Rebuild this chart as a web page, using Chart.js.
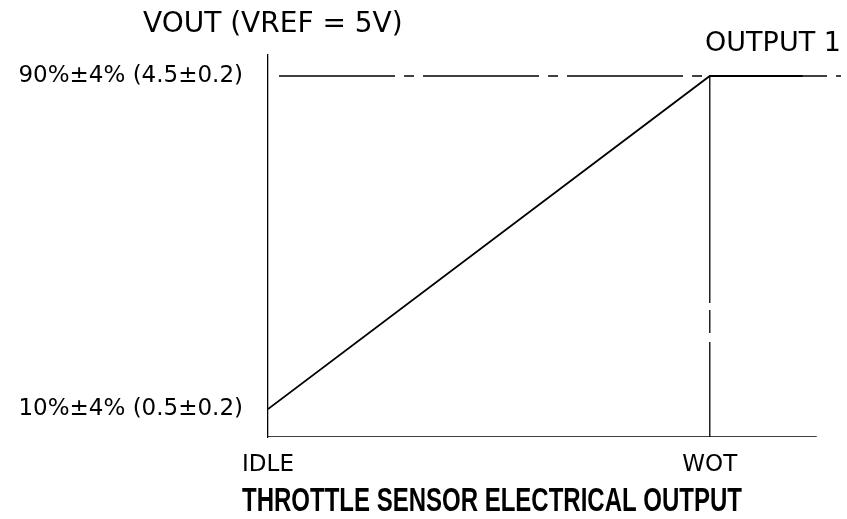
<!DOCTYPE html>
<html>
<head>
<meta charset="utf-8">
<script src="https://cdn.jsdelivr.net/npm/chart.js@4"></script>
<style>
  html, body { margin: 0; padding: 0; background: #fff; }
</style>
</head>
<body>
<canvas id="myChart" width="847" height="519"></canvas>
<script>
// data
const categories = ['IDLE', 'WOT'];
const categoryX = [0, 100];
const levelValues = [0.5, 4.5];
const levelLabels = ['10%\u00b14% (0.5\u00b10.2)', '90%\u00b14% (4.5\u00b10.2)'];
const outputX = [0, 100, 121];
const outputY = [0.5, 4.5, 4.5];
const yMin = 0.164, yMax = 4.752;
const xMax = 129.7, xAxisEnd = 124.2;

const fontFamily = '"DejaVu Sans", sans-serif';
const boldFamily = '"Liberation Sans", sans-serif';

// extra text drawn on the canvas
const textPlugin = {
    id: 'extraText',
    afterDraw(chart) {
        const c = chart.ctx;
        c.save();
        c.fillStyle = '#000';
        c.textBaseline = 'middle';
        c.textAlign = 'left';
        c.font = '28px ' + fontFamily;
        c.fillText('VOUT (VREF = 5V)', 143, 25);
        c.font = '27px ' + fontFamily;
        c.textAlign = 'center';
        c.fillText('OUTPUT 1', 773, 44);
        // bottom caption is tall and narrow in the original
        c.translate(492, 502);
        c.scale(1, 1.35);
        c.font = 'bold 24px ' + boldFamily;
        c.fillText('THROTTLE SENSOR ELECTRICAL OUTPUT', 0, 0);
        c.restore();
    }
};

const ctx = document.getElementById('myChart').getContext('2d');
const myChart = new Chart(ctx, {
    type: 'line',
    data: {
        datasets: [{
            label: 'Output 1',
            data: outputX.map((x, i) => ({ x: x, y: outputY[i] })),
            borderColor: '#000',
            borderWidth: 1.8,
            pointRadius: 0
        }, {
            label: 'high level',
            data: [{ x: 2.5, y: levelValues[1] }, { x: xMax, y: levelValues[1] }],
            borderColor: '#000',
            borderWidth: 1.3,
            borderDash: [116, 9, 10, 9],
            pointRadius: 0
        }, {
            label: 'wot',
            data: [{ x: categoryX[1], y: levelValues[1] }, { x: categoryX[1], y: yMin }],
            borderColor: '#000',
            borderWidth: 1.3,
            borderDash: [227, 7, 23, 9],
            pointRadius: 0
        }, {
            label: 'x axis',
            data: [{ x: 0, y: yMin }, { x: xAxisEnd, y: yMin }],
            borderColor: '#000',
            borderWidth: 1.3,
            pointRadius: 0
        }]
    },
    options: {
        responsive: false,
        animation: false,
        devicePixelRatio: 1,
        layout: { padding: { top: 55, right: 6, left: 0, bottom: 0 } },
        plugins: { legend: { display: false }, tooltip: { enabled: false } },
        scales: {
            x: {
                type: 'linear',
                min: 0,
                max: xMax,
                grid: { display: false },
                border: { display: false },
                afterBuildTicks: (scale) => { scale.ticks = categoryX.map(v => ({ value: v })); },
                afterFit: (scale) => { scale.height = 82; },
                ticks: {
                    padding: 6,
                    color: '#000',
                    maxRotation: 0,
                    autoSkip: false,
                    font: { family: fontFamily, size: 23 },
                    callback: (v) => categories[categoryX.indexOf(v)]
                }
            },
            y: {
                min: yMin,
                max: yMax,
                grid: { display: false },
                border: { display: true, color: '#000', width: 1.3 },
                afterBuildTicks: (scale) => { scale.ticks = levelValues.map(v => ({ value: v })); },
                afterFit: (scale) => { scale.width = 268; },
                ticks: {
                    padding: 17,
                    color: '#000',
                    autoSkip: false,
                    font: { family: fontFamily, size: 23 },
                    callback: (v) => levelLabels[levelValues.indexOf(v)]
                }
            }
        }
    },
    plugins: [textPlugin]
});
</script>
</body>
</html>
